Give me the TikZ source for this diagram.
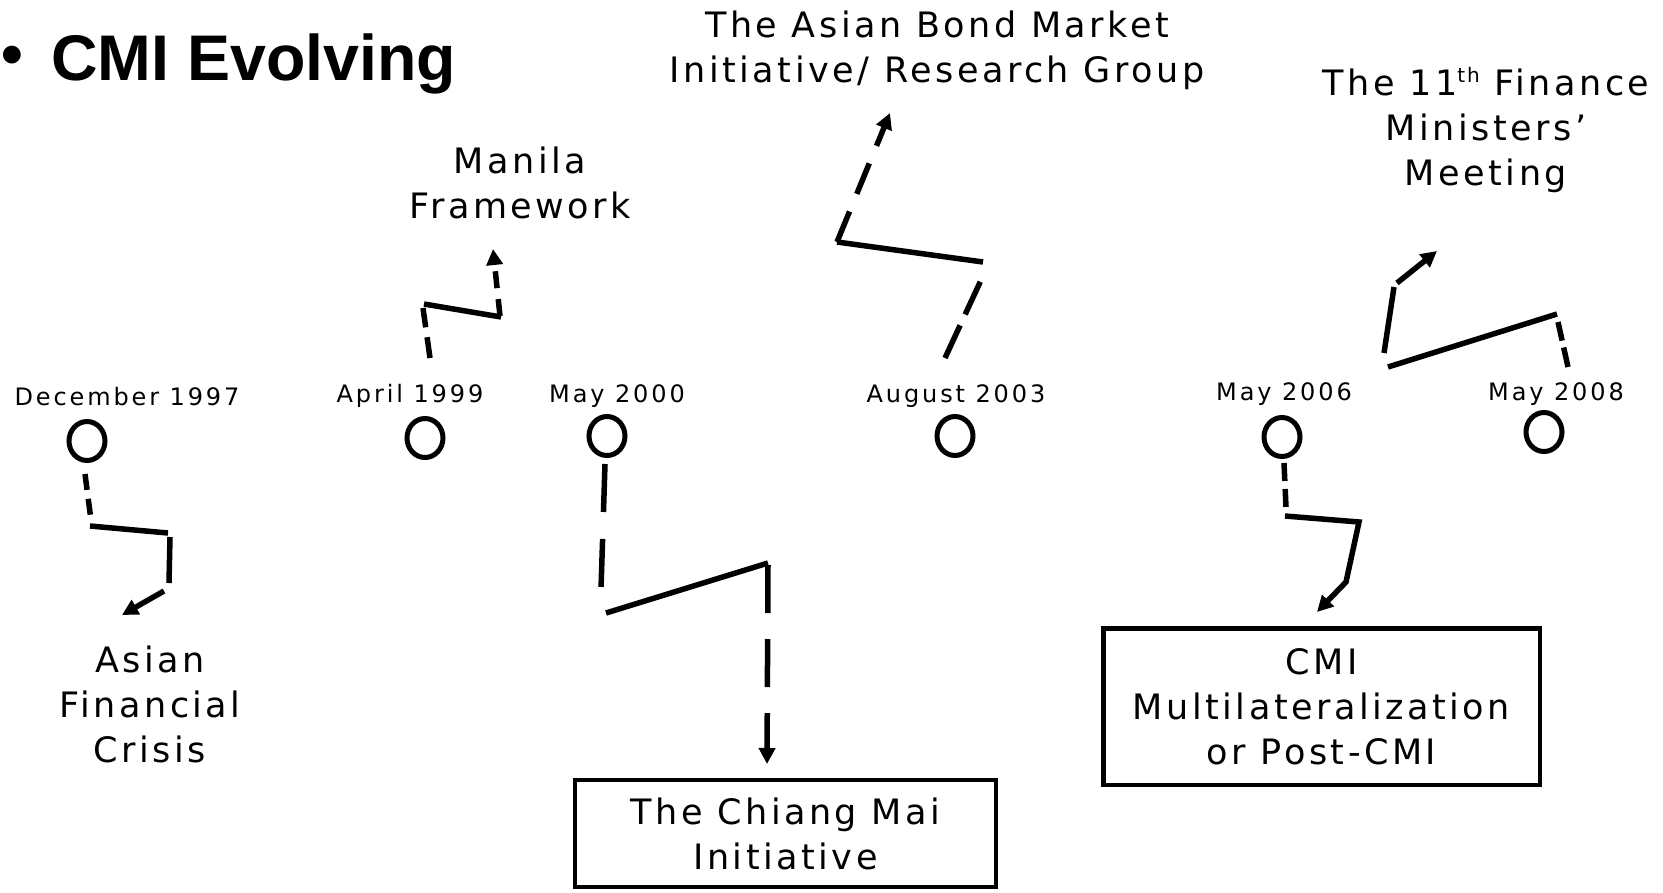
\documentclass[tikz,border=0pt]{standalone}
\usepackage{fontspec}
\usetikzlibrary{arrows.meta,shapes.geometric}
\newfontfamily\lblfont{DejaVu Sans}[LetterSpace=10]
\newfontfamily\datefont{DejaVu Sans}[LetterSpace=12]
\newfontfamily\ttlfont{Liberation Sans}
\begin{document}
\begin{tikzpicture}[x=1pt,y=-1pt,
  lbl/.style={font=\lblfont\fontsize{35}{45}\selectfont, align=center, inner sep=0pt, anchor=center},
  datelbl/.style={font=\datefont\fontsize{24}{28}\selectfont, inner sep=0pt, anchor=base},
  evt/.style={draw, ellipse, line width=5pt, minimum width=36pt, minimum height=39pt, inner sep=0pt},
  boxnode/.style={draw, line width=4.5pt, inner sep=0pt, align=center, font=\lblfont\fontsize{35}{45}\selectfont},
  seg/.style={line width=5.5pt},
  arr/.style={-{Triangle[length=16pt,width=16pt]}},
]
\useasboundingbox (0,0) rectangle (1663,892);

% title
\node[font=\ttlfont\bfseries\fontsize{62}{62}\selectfont, inner sep=0pt, anchor=center] (bul) at (12.5,60.5) {•};
\node[font=\ttlfont\bfseries\fontsize{64.5}{64.5}\selectfont, inner sep=0pt, anchor=base west] (title) at (51,80) {CMI Evolving};

% timeline events
\node[evt] (e97) at (87,441) {};
\node[evt] (e99) at (425,438) {};
\node[evt] (e00) at (607,436) {};
\node[evt] (e03) at (955,436) {};
\node[evt] (e06) at (1282,437) {};
\node[evt] (e08) at (1544,432) {};

\node[datelbl] (d97) at (127,405) {December 1997};
\node[datelbl] (d99) at (410,402) {April 1999};
\node[datelbl] (d00) at (617,402) {May 2000};
\node[datelbl] (d03) at (956,402) {August 2003};
\node[datelbl] (d06) at (1284,400) {May 2006};
\node[datelbl] (d08) at (1556,400) {May 2008};

% outcomes
\node[lbl] (afc) at (150,704) {Asian\\Financial\\Crisis};
\node[lbl] (mf) at (520,183) {Manila\\Framework};
\node[lbl] (abmi) at (937,50) {The Asian Bond Market\\Initiative/ Research Group};
\node[lbl] (fmm) at (1486,130.3) {The 11{\raisebox{0.38em}{\fontsize{20}{20}\selectfont th}} Finance\\Ministers’\\Meeting};
\node[boxnode, minimum width=421pt, minimum height=107pt] (cmi) at (785.5,833.5) {The Chiang Mai\\Initiative};
\node[boxnode, minimum width=436.5pt, minimum height=156.5pt] (cmim) at (1321.5,706.5) {CMI\\Multilateralization\\or Post-CMI};

% connector corner points
\coordinate (a1) at (85,474);  \coordinate (a2) at (91,520);
\coordinate (a3) at (90,526);  \coordinate (a4) at (168,533);
\coordinate (a5) at (170,537); \coordinate (a6) at (169,583);
\coordinate (a7) at (164,591); \coordinate (a8) at (122,615);

\coordinate (b1) at (430,358); \coordinate (b2) at (423,308);
\coordinate (b3) at (424,304); \coordinate (b4) at (501,317);
\coordinate (b5) at (500,316); \coordinate (b6) at (493,249);

\coordinate (c1) at (605,464); \coordinate (c2) at (601,589);
\coordinate (c3) at (606,613); \coordinate (c4) at (768,563);
\coordinate (c5) at (768,565); \coordinate (c6) at (767,764);

\coordinate (g1) at (945,358); \coordinate (g2) at (982,278);
\coordinate (g3) at (983,262); \coordinate (g4) at (837,242);
\coordinate (g5) at (837,242); \coordinate (g6) at (890,113);

\coordinate (f1) at (1568,367); \coordinate (f2) at (1558,322);
\coordinate (f3) at (1557,314); \coordinate (f4) at (1388,367);
\coordinate (f5) at (1384,353); \coordinate (f6) at (1394,287);
\coordinate (f7) at (1397,283); \coordinate (f8) at (1437,251);

\coordinate (m1) at (1284,463); \coordinate (m2) at (1286,507);
\coordinate (m3) at (1285,516); \coordinate (m4) at (1359,522);
\coordinate (m5) at (1346,582); \coordinate (m6) at (1317,612);

% December 1997 -> Asian Financial Crisis
\draw[seg, dash pattern=on 16pt off 9pt] (a1) -- (a2);
\draw[seg] (a3) -- (a4);
\draw[seg] (a5) -- (a6);
\draw[seg, arr] (a7) -- (a8);

% April 1999 -> Manila Framework
\draw[seg, dash pattern=on 21pt off 10pt] (b1) -- (b2);
\draw[seg] (b3) -- (b4);
\draw[seg, arr, dash pattern=on 17pt off 11pt] (b5) -- (b6);

% May 2000 -> Chiang Mai Initiative
\draw[seg, dash pattern=on 48pt off 27pt] (c1) -- (c2);
\draw[seg] (c3) -- (c4);
\draw[seg, arr, dash pattern=on 48pt off 26pt] (c5) -- (c6);

% August 2003 -> ABMI
\draw[seg, dash pattern=on 36pt off 12pt] (g1) -- (g2);
\draw[seg] (g3) -- (g4);
\draw[seg, arr, dash pattern=on 33pt off 19pt] (g5) -- (g6);

% May 2008 -> 11th FMM
\draw[seg, dash pattern=on 20pt off 7pt] (f1) -- (f2);
\draw[seg] (f3) -- (f4);
\draw[seg] (f5) -- (f6);
\draw[seg, arr] (f7) -- (f8);

% May 2006 -> CMIM
\draw[seg, dash pattern=on 18pt off 8pt] (m1) -- (m2);
\draw[seg, arr] (m3) -- (m4) -- (m5) -- (m6);
\end{tikzpicture}
\end{document}
